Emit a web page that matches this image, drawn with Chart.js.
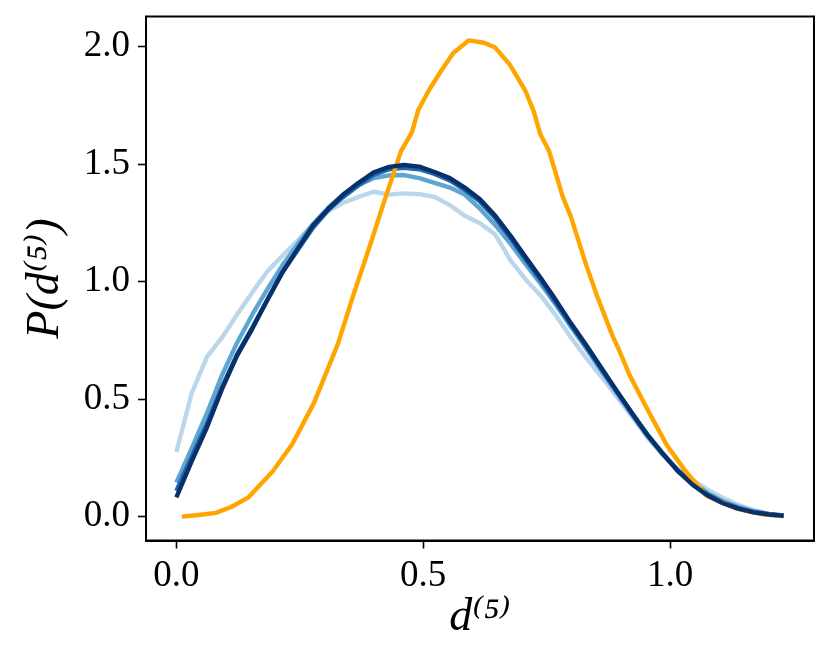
<!DOCTYPE html>
<html><head><meta charset="utf-8">
<script src="https://cdn.jsdelivr.net/npm/chart.js@4"></script>
<style>html,body{margin:0;padding:0;background:#fff}#wrap{width:831px;height:664px}</style>
</head><body><div id="wrap"><canvas id="c" width="831" height="664"></canvas></div>
<script>
// shared x grid of the blue curves
const xBlue = [0.000,0.031,0.062,0.092,0.123,0.154,0.185,0.215,0.246,0.277,0.308,0.338,0.369,0.400,0.431,0.461,0.492,0.523,0.554,0.584,0.615,0.646,0.677,0.707,0.738,0.769,0.800,0.830,0.861,0.892,0.923,0.953,0.984,1.015,1.046,1.076,1.107,1.138,1.169,1.200,1.230];
const pLight   = [0.275,0.525,0.680,0.760,0.860,0.955,1.045,1.110,1.175,1.245,1.300,1.335,1.360,1.382,1.370,1.375,1.372,1.360,1.325,1.280,1.248,1.200,1.090,1.010,0.940,0.855,0.760,0.675,0.595,0.510,0.425,0.340,0.265,0.202,0.155,0.115,0.080,0.050,0.028,0.012,0.005];
const pMedium  = [0.145,0.290,0.440,0.600,0.740,0.860,0.970,1.070,1.160,1.245,1.315,1.370,1.410,1.440,1.452,1.453,1.440,1.420,1.400,1.370,1.310,1.240,1.160,1.075,0.990,0.900,0.805,0.715,0.620,0.525,0.432,0.346,0.268,0.200,0.145,0.100,0.066,0.042,0.024,0.012,0.005];
const pDark    = [0.110,0.255,0.395,0.550,0.690,0.805,0.925,1.040,1.135,1.230,1.305,1.360,1.410,1.455,1.478,1.484,1.478,1.458,1.430,1.390,1.340,1.270,1.185,1.095,1.005,0.910,0.815,0.725,0.628,0.533,0.440,0.352,0.272,0.198,0.140,0.094,0.060,0.036,0.020,0.010,0.004];
const pDarkest = [0.082,0.235,0.380,0.540,0.685,0.800,0.925,1.040,1.140,1.240,1.310,1.370,1.420,1.465,1.488,1.496,1.489,1.466,1.440,1.400,1.350,1.280,1.195,1.105,1.015,0.920,0.820,0.730,0.632,0.535,0.440,0.350,0.270,0.195,0.135,0.090,0.057,0.034,0.018,0.009,0.004];
// orange curve
const xOrange = [0.011,0.040,0.080,0.111,0.146,0.195,0.235,0.279,0.327,0.358,0.393,0.420,0.455,0.477,0.490,0.513,0.535,0.561,0.592,0.623,0.645,0.676,0.707,0.724,0.737,0.755,0.782,0.799,0.830,0.852,0.883,0.896,0.918,0.958,0.994,1.029,1.073,1.135,1.188,1.230];
const pOrange = [0.000,0.006,0.016,0.041,0.082,0.192,0.309,0.485,0.734,0.939,1.159,1.335,1.555,1.635,1.730,1.819,1.892,1.972,2.026,2.016,1.997,1.921,1.811,1.723,1.628,1.555,1.364,1.276,1.071,0.939,0.771,0.712,0.602,0.441,0.302,0.200,0.090,0.034,0.010,0.002];
// ticks
const xTickVals = [0.0, 0.5, 1.0];
const xTickLabels = ['0.0', '0.5', '1.0'];
const yTickVals = [0.0, 0.5, 1.0, 1.5, 2.0];
const yTickLabels = ['0.0', '0.5', '1.0', '1.5', '2.0'];
const xTitle = 'd⁽⁵⁾';
const yTitle = 'P(d⁽⁵⁾)';

const pts = (xs, ys) => xs.map((x, i) => ({x: x, y: ys[i]}));
const SERIF = "'Liberation Serif', 'DejaVu Serif', serif";

function ds(label, xs, ys, color, order) {
  return {label, data: pts(xs, ys), borderColor: color, backgroundColor: color,
    borderWidth: 4.4, pointRadius: 0, tension: 0, fill: false,
    borderJoinStyle: 'round', borderCapStyle: 'butt', order};
}

const frame = {
  id: 'frame',
  afterDraw(chart) {
    const {ctx, chartArea: a} = chart;
    ctx.save();
    ctx.strokeStyle = '#000';
    ctx.lineWidth = 2;
    ctx.strokeRect(a.left, a.top, a.right - a.left, a.bottom - a.top);
    ctx.restore();
  }
};

new Chart(document.getElementById('c'), {
  type: 'line',
  data: {
    datasets: [
      ds('light', xBlue, pLight, '#bad6eb', 4),
      ds('medium', xBlue, pMedium, '#5fa5d2', 3),
      ds('dark', xBlue, pDark, '#1f66ad', 2),
      ds('darkest', xBlue, pDarkest, '#08306b', 0),
      ds('orange', xOrange, pOrange, '#ffa500', 1)
    ]
  },
  options: {
    responsive: false,
    animation: false,
    layout: {padding: {left: 0, right: 17, top: 16.5, bottom: 0}},
    plugins: {legend: {display: false}, tooltip: {enabled: false}},
    scales: {
      x: {
        type: 'linear', min: -0.0615, max: 1.2915,
        afterBuildTicks: s => { s.ticks = xTickVals.map(v => ({value: v})); },
        afterFit: s => { s.height = 123.5; s.paddingLeft = 0; s.paddingRight = 0; },
        ticks: {callback: (v, i) => xTickLabels[i], color: '#000', font: {family: SERIF, size: 37}, padding: 6, maxRotation: 0, autoSkip: false},
        grid: {display: true, drawOnChartArea: false, drawTicks: true, tickLength: 8, tickWidth: 1.6, tickColor: '#000'},
        border: {display: true, color: '#000', width: 2},
        title: {display: true, text: xTitle, color: '#000', font: {family: SERIF, size: 46, style: 'italic'}, padding: {top: 0, bottom: 18}}
      },
      y: {
        type: 'linear', min: -0.1015, max: 2.1275,
        afterBuildTicks: s => { s.ticks = yTickVals.map(v => ({value: v})); },
        afterFit: s => { s.width = 146; s.paddingTop = 0; s.paddingBottom = 0; },
        ticks: {callback: (v, i) => yTickLabels[i], color: '#000', font: {family: SERIF, size: 37}, padding: 8, autoSkip: false},
        grid: {display: true, drawOnChartArea: false, drawTicks: true, tickLength: 8, tickWidth: 1.6, tickColor: '#000'},
        border: {display: true, color: '#000', width: 2},
        title: {display: true, text: yTitle, color: '#000', font: {family: SERIF, size: 46, style: 'italic'}, padding: {top: 18, bottom: 0}}
      }
    }
  },
  plugins: [frame]
});
</script>
</body></html>
